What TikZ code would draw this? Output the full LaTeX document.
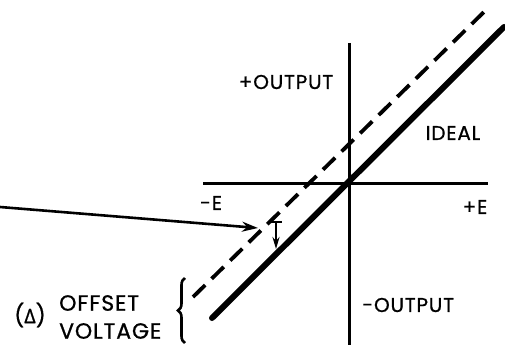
\documentclass[tikz,border=0pt]{standalone}
\usepackage{fontspec}
\setmainfont{Poppins}[FakeBold=0.8,LetterSpace=4]
\newfontfamily\greekfont{Open Sans}[FakeBold=1]
\usetikzlibrary{arrows.meta,decorations.pathreplacing}
\begin{document}
\begin{tikzpicture}[x=1pt,y=1pt,
  axis/.style={line width=3pt},
  idealline/.style={line width=6pt,line cap=round},
  offsetline/.style={line width=3.8pt,dash pattern=on 17pt off 9pt},
  lbl/.style={inner sep=0pt,font=\fontsize{20}{22}\selectfont},
  biglbl/.style={inner sep=0pt,font=\fontsize{22}{24}\selectfont},
  pointer/.style={line width=2.6pt,-{Stealth[length=16pt,width=10pt]}},
  smallarrow/.style={line width=2.2pt,-{Stealth[length=12pt,width=7pt]}}]
\useasboundingbox (0,0) rectangle (505,345);
% axes
\coordinate (vt) at (349,302);
\coordinate (vb) at (349,0);
\coordinate (hl) at (203,161);
\coordinate (hr) at (488,161);
\draw[axis] (vt) -- (vb);
\draw[axis] (hl) -- (hr);
% ideal and offset characteristics
\coordinate (s1) at (212,27);
\coordinate (s2) at (504,318);
\draw[idealline] (s1) -- (s2);
\coordinate (d1) at (193,48);
\coordinate (d2) at (488,337);
\draw[offsetline] (d1) -- (d2);
% pointer arrow
\coordinate (pa) at (0,138);
\coordinate (pb) at (258,117);
\draw[pointer] (pa) -- (pb);
% offset marker
\coordinate (ba) at (270,123);
\coordinate (bb) at (282,123);
\coordinate (mt) at (276,123);
\coordinate (mb) at (276,96);
\draw[line width=2.2pt] (ba) -- (bb);
\draw[smallarrow] (mt) -- (mb);
% brace
\coordinate (br1) at (185,2);
\coordinate (br2) at (185,67);
\draw[line width=2.6pt,decorate,decoration={brace,amplitude=7pt}] (br1) -- (br2);
% labels
\node[lbl] (pout) at (286,263) {+OUTPUT};
\node[lbl] (ideal) at (453,212) {IDEAL};
\node[lbl] (me) at (211,142) {-E};
\node[lbl] (pe) at (475,138) {+E};
\node[lbl,anchor=west] (mout) at (362,40) {-OUTPUT};
\node[biglbl,anchor=west] (offs) at (59,42) {OFFSET};
\node[biglbl,anchor=west] (volt) at (59,14) {VOLTAGE};
\node[biglbl] (delta) at (30,30) {({\greekfont\fontsize{20}{22}\selectfont Δ})};
\end{tikzpicture}
\end{document}
